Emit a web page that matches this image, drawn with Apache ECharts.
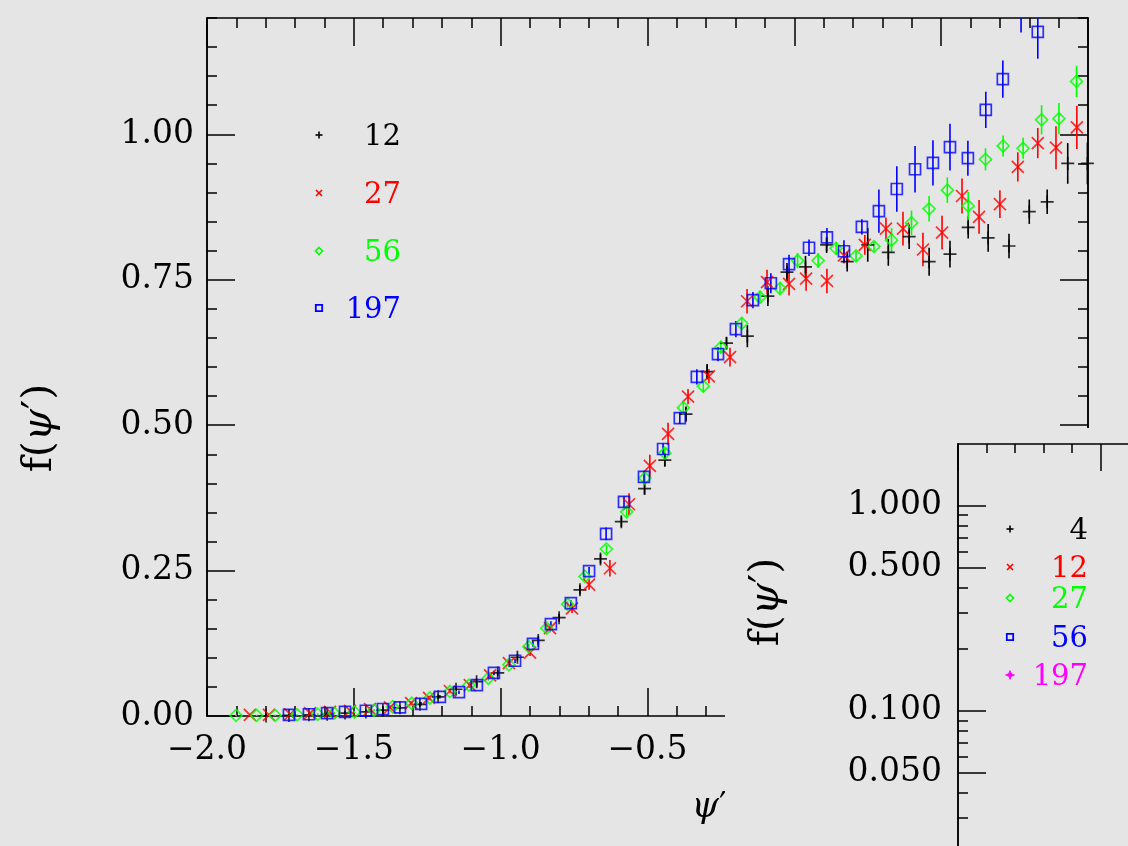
<!DOCTYPE html>
<html><head><meta charset="utf-8">
<script src="https://cdn.jsdelivr.net/npm/echarts@6/dist/echarts.min.js"></script>
<style>html,body{margin:0;padding:0;background:#e5e5e5}#c{width:1128px;height:846px}</style>
</head><body><div id="c"></div><script>
// ---------- data ----------
const x12 = [-1.799,-1.721,-1.653,-1.591,-1.530,-1.459,-1.401,-1.343,-1.275,-1.213,-1.152,-1.082,-1.010,-0.943,-0.872,-0.801,-0.730,-0.660,-0.589,-0.510,-0.441,-0.369,-0.297,-0.231,-0.160,-0.090,-0.025,0.038,0.110,0.180,0.250,0.320,0.391,0.459,0.530,0.592,0.660,0.731,0.800,0.861,0.931,0.998];
const y12 = [0.000,0.001,0.002,0.003,0.005,0.007,0.010,0.014,0.020,0.033,0.046,0.059,0.074,0.101,0.130,0.169,0.217,0.270,0.334,0.391,0.440,0.519,0.592,0.641,0.653,0.722,0.763,0.772,0.810,0.781,0.810,0.797,0.824,0.781,0.794,0.840,0.822,0.808,0.867,0.884,0.950,0.950];
const e12 = [0.002,0.002,0.002,0.002,0.002,0.002,0.003,0.003,0.004,0.004,0.005,0.005,0.005,0.006,0.007,0.007,0.008,0.008,0.009,0.010,0.011,0.013,0.013,0.010,0.019,0.017,0.016,0.019,0.014,0.017,0.029,0.023,0.021,0.024,0.023,0.019,0.024,0.021,0.021,0.021,0.035,0.036];

const x27 = [-1.854,-1.789,-1.717,-1.649,-1.581,-1.513,-1.445,-1.377,-1.305,-1.244,-1.173,-1.105,-1.036,-0.972,-0.900,-0.832,-0.757,-0.699,-0.628,-0.563,-0.492,-0.430,-0.362,-0.291,-0.219,-0.161,-0.093,-0.018,0.040,0.111,0.169,0.240,0.312,0.370,0.438,0.503,0.571,0.629,0.700,0.761,0.829,0.891,0.962];
const y27 = [0.002,0.002,0.003,0.005,0.007,0.009,0.012,0.015,0.022,0.031,0.043,0.053,0.070,0.091,0.109,0.151,0.185,0.226,0.254,0.364,0.430,0.485,0.549,0.584,0.617,0.713,0.746,0.743,0.752,0.748,0.792,0.810,0.838,0.838,0.802,0.831,0.894,0.858,0.880,0.944,0.985,0.977,1.012];
const e27 = [0.002,0.002,0.002,0.002,0.002,0.003,0.003,0.003,0.004,0.004,0.004,0.005,0.005,0.006,0.006,0.007,0.008,0.009,0.014,0.019,0.019,0.019,0.013,0.012,0.016,0.021,0.021,0.020,0.021,0.021,0.014,0.017,0.019,0.029,0.029,0.029,0.030,0.029,0.024,0.025,0.026,0.037,0.037];

const x56 = [-1.901,-1.831,-1.768,-1.693,-1.623,-1.567,-1.498,-1.431,-1.368,-1.303,-1.241,-1.173,-1.108,-1.042,-0.972,-0.904,-0.843,-0.772,-0.713,-0.640,-0.571,-0.509,-0.441,-0.378,-0.310,-0.250,-0.179,-0.117,-0.049,0.011,0.081,0.142,0.210,0.271,0.331,0.399,0.459,0.521,0.592,0.651,0.711,0.779,0.842,0.901,0.961];
const y56 = [0.001,0.001,0.001,0.002,0.003,0.005,0.007,0.010,0.016,0.022,0.031,0.042,0.053,0.065,0.088,0.119,0.151,0.192,0.240,0.287,0.351,0.409,0.452,0.530,0.567,0.634,0.675,0.720,0.735,0.783,0.783,0.804,0.791,0.807,0.818,0.848,0.872,0.904,0.877,0.957,0.980,0.976,1.025,1.027,1.091];
const e56 = [0.001,0.001,0.001,0.001,0.002,0.002,0.002,0.002,0.003,0.003,0.003,0.003,0.004,0.004,0.004,0.005,0.005,0.005,0.005,0.007,0.009,0.009,0.009,0.009,0.010,0.010,0.011,0.011,0.011,0.013,0.013,0.011,0.009,0.009,0.021,0.021,0.022,0.022,0.024,0.019,0.018,0.018,0.025,0.027,0.027];

const x197 = [-1.721,-1.653,-1.591,-1.530,-1.459,-1.401,-1.343,-1.271,-1.207,-1.142,-1.081,-1.023,-0.951,-0.890,-0.829,-0.761,-0.699,-0.641,-0.580,-0.512,-0.447,-0.390,-0.332,-0.260,-0.199,-0.141,-0.080,-0.018,0.050,0.111,0.169,0.230,0.288,0.349,0.411,0.472,0.530,0.591,0.652,0.710,0.772,0.829];
const y197 = [0.002,0.003,0.005,0.007,0.009,0.012,0.015,0.021,0.033,0.041,0.053,0.074,0.095,0.124,0.158,0.194,0.249,0.313,0.368,0.411,0.459,0.512,0.583,0.622,0.665,0.715,0.744,0.777,0.805,0.823,0.799,0.841,0.868,0.906,0.940,0.951,0.978,0.959,1.042,1.095,1.212,1.176];
const e197 = [0.001,0.001,0.002,0.002,0.002,0.002,0.003,0.003,0.003,0.003,0.004,0.004,0.004,0.005,0.005,0.005,0.007,0.011,0.010,0.010,0.010,0.010,0.013,0.012,0.014,0.014,0.017,0.016,0.014,0.016,0.019,0.013,0.037,0.039,0.040,0.039,0.040,0.030,0.031,0.032,0.037,0.046];

const mainLegend = ['12','27','56','197'];
const insetLegend = ['4','12','27','56','197'];
const mainYTicks = [0, 0.25, 0.5, 0.75, 1.0];
const insetMajorTicks = [0.05, 0.1, 0.5, 1.0];
const insetMinorTicks = [0.02,0.03,0.04,0.06,0.07,0.08,0.09,0.2,0.3,0.4,0.6,0.7,0.8,0.9];

// ---------- styling ----------
const FONT = 'DejaVu Serif';
const BG = '#e5e5e5';
const AX = '#000';
const GREEN = '#00ff00';
const PLUS = 'path://M0,5L10,5M5,0L5,10';
const CROSS = 'path://M0,0L10,10M10,0L0,10';
const groups = [
  {name:'12', x:x12, y:y12, e:e12, color:'#000000', symbol:PLUS, size:13},
  {name:'27', x:x27, y:y27, e:e27, color:'#ff0000', symbol:CROSS, size:12},
  {name:'56', x:x56, y:y56, e:e56, color:GREEN, symbol:'diamond', size:12},
  {name:'197', x:x197, y:y197, e:e197, color:'#0000ff', symbol:'rect', size:11}
];

const series = [];
groups.forEach(g => {
  const rows = g.x.map((v, i) => [v, g.y[i], g.e[i]]);
  series.push({
    type:'custom', name:g.name + ' error', xAxisIndex:0, yAxisIndex:0, clip:true, silent:true, z:3,
    data:rows, encode:{x:0, y:1},
    renderItem:(params, api) => {
      const x = api.value(0), y = api.value(1), e = api.value(2);
      const p1 = api.coord([x, y - e]), p2 = api.coord([x, y + e]);
      return {type:'line', shape:{x1:p1[0], y1:p1[1], x2:p2[0], y2:p2[1]},
              style:{stroke:g.color, lineWidth:1.6}};
    }
  });
  series.push({
    type:'scatter', name:g.name, xAxisIndex:0, yAxisIndex:0, clip:true, z:4,
    data:rows, encode:{x:0, y:1},
    symbol:g.symbol, symbolSize:g.size,
    itemStyle:{color:'rgba(0,0,0,0)', borderColor:g.color, borderWidth:1.7},
    emphasis:{disabled:true}
  });
});

const lbl = {fontFamily:FONT, fontSize:33, color:'#000'};
const line = {lineStyle:{color:AX, width:1.5}};
const minusFmt = v => (v < 0 ? '\u2212' : '') + Math.abs(v).toFixed(1);

function xMain(pos, showLabel) {
  return {
    gridIndex:0, type:'value', min:-2, max:1, interval:0.5, position:pos, z:1,
    axisLine:{show:true, onZero:false, ...line},
    axisTick:{show:true, inside:true, length:28, ...line},
    minorTick:{show:true, splitNumber:5, length:10, ...line},
    splitLine:{show:false}, minorSplitLine:{show:false},
    axisLabel:{show:showLabel, margin:18, formatter:minusFmt, ...lbl}
  };
}
function yMainMajor(pos, showLabel) {
  return {
    gridIndex:0, type:'value', min:0, max:1.2, position:pos, z:1,
    axisLine:{show:true, onZero:false, ...line},
    axisTick:{show:true, inside:true, length:28, customValues:mainYTicks, ...line},
    splitLine:{show:false},
    axisLabel:{show:showLabel, margin:13, customValues:mainYTicks, formatter:v => v.toFixed(2), ...lbl}
  };
}
function yMainMinor(pos) {
  return {
    gridIndex:0, type:'value', min:0, max:1.2, interval:0.05, position:pos, z:1,
    axisLine:{show:true, onZero:false, ...line},
    axisTick:{show:true, inside:true, length:10, ...line},
    splitLine:{show:false}, axisLabel:{show:false}
  };
}

const TS = 41;
const rich = {
  n:{fontFamily:FONT, fontSize:TS, color:'#000'},
  i:{fontFamily:FONT, fontSize:TS, fontStyle:'italic', color:'#000'}
};

const xAxes = [
  Object.assign(xMain('bottom', true), {
    name:'{i|ψ}{n|′}', nameLocation:'middle', nameGap:74,
    nameTextStyle:{align:'left', padding:[0,0,0,44], rich:{
      n:{fontFamily:FONT, fontSize:35, color:'#000'},
      i:{fontFamily:FONT, fontSize:35, fontStyle:'italic', color:'#000'}}}
  }),
  xMain('top', false),
  {
    gridIndex:1, type:'value', min:-2, max:1, interval:0.5, position:'top', z:110,
    axisLine:{show:true, onZero:false, ...line},
    axisTick:{show:true, inside:true, length:27, ...line},
    minorTick:{show:true, splitNumber:5, length:9, ...line},
    splitLine:{show:false}, minorSplitLine:{show:false}, axisLabel:{show:false}
  }
];

const yAxes = [
  Object.assign(yMainMajor('left', true), {
    name:'{n|f(}{i|ψ}{n|′)}', nameLocation:'middle', nameRotate:90, nameGap:146,
    nameTextStyle:{padding:[0,122,0,0], rich}
  }),
  yMainMajor('right', false),
  yMainMinor('left'),
  yMainMinor('right'),
  {
    gridIndex:1, type:'log', logBase:10, min:0.01, max:2, position:'left', z:110,
    axisLine:{show:true, onZero:false, ...line},
    axisTick:{show:true, inside:true, length:28, customValues:insetMajorTicks, ...line},
    splitLine:{show:false}, minorTick:{show:false},
    axisLabel:{show:true, margin:16, customValues:insetMajorTicks, formatter:v => Number(v).toFixed(3), ...lbl},
    name:'{n|f(}{i|ψ}{n|′)}', nameLocation:'middle', nameRotate:90, nameGap:170,
    nameTextStyle:{padding:[0,0,0,156], rich}
  },
  {
    gridIndex:1, type:'log', logBase:10, min:0.01, max:2, position:'left', z:110,
    axisLine:{show:true, onZero:false, ...line},
    axisTick:{show:true, inside:true, length:10, customValues:insetMinorTicks, ...line},
    splitLine:{show:false}, minorTick:{show:false}, axisLabel:{show:false}
  }
];

// ---------- legends (graphic) ----------
const G = [];
function seg(x1, y1, x2, y2, c, z) {
  return {type:'line', shape:{x1, y1, x2, y2}, style:{stroke:c, lineWidth:1.6}, z, silent:true};
}
function marker(kind, cx, cy, c, z) {
  const r = 3.5;
  if (kind === 'plus') return [seg(cx - r, cy, cx + r, cy, c, z), seg(cx, cy - r, cx, cy + r, c, z)];
  if (kind === 'cross') return [seg(cx - 3, cy - 3, cx + 3, cy + 3, c, z), seg(cx + 3, cy - 3, cx - 3, cy + 3, c, z)];
  if (kind === 'diamond') return [{type:'polygon', shape:{points:[[cx, cy - 3.5], [cx + 3.5, cy], [cx, cy + 3.5], [cx - 3.5, cy]]}, style:{fill:'none', stroke:c, lineWidth:1.6}, z, silent:true}];
  if (kind === 'square') return [{type:'rect', shape:{x:cx - 3.2, y:cy - 3.2, width:6.4, height:6.4}, style:{fill:'none', stroke:c, lineWidth:1.8}, z, silent:true}];
  if (kind === 'star') return [{type:'polygon', shape:{points:[[cx, cy - 4.5], [cx + 1.3, cy - 1.3], [cx + 4.5, cy], [cx + 1.3, cy + 1.3], [cx, cy + 4.5], [cx - 1.3, cy + 1.3], [cx - 4.5, cy], [cx - 1.3, cy - 1.3]]}, style:{fill:c, stroke:c, lineWidth:0.8}, z, silent:true}];
}
function txt(s, x, y, c, z) {
  return {type:'text', x, y, z, silent:true,
    style:{text:s, fill:c, font:'29px "DejaVu Serif"', align:'right', verticalAlign:'middle', textAlign:'right', textVerticalAlign:'middle'}};
}

const mainKinds = ['plus', 'cross', 'diamond', 'square'];
const mainColors = ['#000000', '#ff0000', GREEN, '#0000ff'];
const mainMarkY = [135, 193, 251, 308];
mainLegend.forEach((s, i) => {
  G.push(...marker(mainKinds[i], 319, mainMarkY[i], mainColors[i], 10));
  G.push(txt(s, 401, mainMarkY[i] + 2, mainColors[i], 10));
});

// inset panel background (covers lower right of main plot)
G.push({type:'rect', shape:{x:725, y:428, width:403, height:418}, style:{fill:BG}, z:100, silent:true});

const insetKinds = ['plus', 'cross', 'diamond', 'square', 'star'];
const insetColors = ['#000000', '#ff0000', GREEN, '#0000ff', '#ff00ff'];
const insetMarkY = [529, 567, 598, 637, 675];
insetLegend.forEach((s, i) => {
  G.push(...marker(insetKinds[i], 1010, insetMarkY[i], insetColors[i], 120));
  G.push(txt(s, 1088, insetMarkY[i] + 2, insetColors[i], 120));
});

const chart = echarts.init(document.getElementById('c'), null, {renderer:'canvas'});
chart.setOption({
  backgroundColor:BG,
  animation:false,
  grid:[
    {left:207, top:18, width:881, height:698, containLabel:false, outerBoundsMode:'none'},
    {left:958, top:444, width:855, height:472, z:110, containLabel:false, outerBoundsMode:'none'}
  ],
  xAxis:xAxes,
  yAxis:yAxes,
  series:series,
  graphic:{elements:G}
});
</script></body></html>
